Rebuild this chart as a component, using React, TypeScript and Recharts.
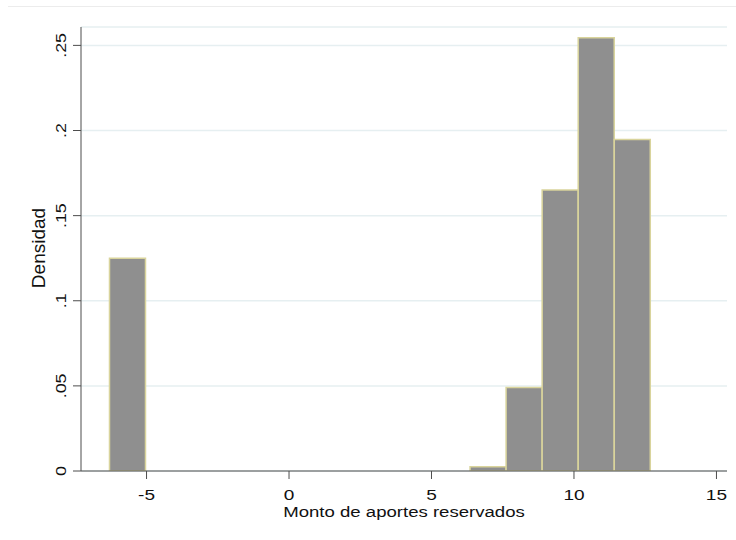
import React from "react"
import { Bar, CartesianGrid, ComposedChart, XAxis, YAxis } from "recharts"

// histogram bins (lower / upper edges) and their densities
const binLow = [-6.3, 6.353, 7.618, 8.883, 10.149, 11.414]
const binHigh = [-5.035, 7.618, 8.883, 10.149, 11.414, 12.679]
const density = [0.125, 0.0025, 0.049, 0.165, 0.2545, 0.1947]

const xTicks = [-5, 0, 5, 10, 15]
const yTicks = [0, 0.05, 0.1, 0.15, 0.2, 0.25]
const yTickLabels = ["0", ".05", ".1", ".15", ".2", ".25"]

const data = binLow.map((lo, i) => ({
  mid: (lo + binHigh[i]) / 2,
  density: density[i],
}))

const FONT = "'Liberation Sans', Arial, sans-serif"
const AXIS = "#4d4d4d"
const TEXT = "#111"

// horizontal text is drawn a bit wide, like the Stata export
function XTick(props: any) {
  const { x, y, payload } = props
  return (
    <text
      transform={`translate(${x}, ${y + 21}) scale(1.27, 1)`}
      textAnchor="middle"
      fontFamily={FONT}
      fontSize={15}
      fill={TEXT}
    >
      {payload.value}
    </text>
  )
}

function YTick(props: any) {
  const { x, y, payload } = props
  const idx = yTicks.indexOf(payload.value)
  const tx = x - 7
  return (
    <text
      transform={`translate(${tx}, ${y}) rotate(-90) scale(1.28, 1)`}
      textAnchor="middle"
      fontFamily={FONT}
      fontSize={14}
      fill={TEXT}
    >
      {idx >= 0 ? yTickLabels[idx] : payload.value}
    </text>
  )
}

export default function App() {
  return (
    <div style={{ position: "absolute", left: 0, top: 0, width: 736, height: 540, background: "#fff" }}>
      <div style={{ position: "absolute", left: 8, right: 0, top: 6, borderTop: "1.5px solid #ececec" }} />
      <ComposedChart
        width={736}
        height={540}
        data={data}
        margin={{ top: 27, right: 9, bottom: 0, left: 0 }}
        barCategoryGap={0}
        barGap={0}
      >
        <CartesianGrid horizontal vertical={false} stroke="#e6eff1" strokeWidth={1.5} />
        <XAxis
          dataKey="mid"
          type="number"
          domain={[-7.3, 15.37]}
          ticks={xTicks}
          allowDataOverflow
          height={69}
          stroke={AXIS}
          tickSize={8}
          tickMargin={0}
          tick={<XTick />}
          label={({ viewBox }: any) => (
            <text
              transform={`translate(${viewBox.x + viewBox.width / 2}, ${viewBox.y + 46}) scale(1.24, 1)`}
              textAnchor="middle"
              fontFamily={FONT}
              fontSize={15}
              fill={TEXT}
            >
              Monto de aportes reservados
            </text>
          )}
        />
        <YAxis
          type="number"
          domain={[0, 0.2608]}
          ticks={yTicks}
          allowDataOverflow
          width={81}
          stroke={AXIS}
          tickSize={8}
          tickMargin={0}
          tick={<YTick />}
          label={({ viewBox }: any) => {
            const lx = viewBox.x + 45
            const ly = viewBox.y + viewBox.height / 2 - 1
            return (
              <text
                x={lx}
                y={ly}
                transform={`rotate(-90, ${lx}, ${ly})`}
                textAnchor="middle"
                fontFamily={FONT}
                fontSize={19}
                fill={TEXT}
              >
                Densidad
              </text>
            )
          }}
        />
        <Bar dataKey="density" fill="#8f8f8f" stroke="#d9d49c" strokeWidth={1.5} isAnimationActive={false} />
      </ComposedChart>
    </div>
  )
}
